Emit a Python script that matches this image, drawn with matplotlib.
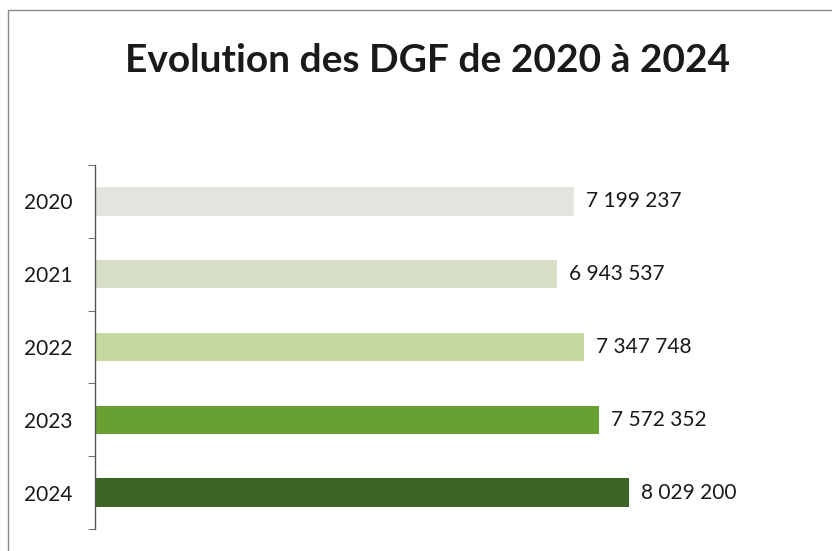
import matplotlib
matplotlib.use('Agg')
import matplotlib.pyplot as plt
from matplotlib.patches import Rectangle

years = ['2020', '2021', '2022', '2023', '2024']
dgf = [7199237, 6943537, 7347748, 7572352, 8029200]
colors = ['#e2e4dd', '#d6dfc6', '#c5d99f', '#69a034', '#3b6425']

plt.rcParams['font.family'] = ['Lato', 'DejaVu Sans']

W, H = 832, 551
fig = plt.figure(figsize=(W / 100, H / 100), dpi=100)

# scanned frame around the chart
fig.patches.append(Rectangle((8 / W, -0.1), 1.2, 1 - 10 / H + 0.1, transform=fig.transFigure,
                             fill=False, edgecolor='#8a8a8a', linewidth=1.0))

ax = fig.add_axes([95 / W, (H - 529) / H, (800 - 95) / W, (529 - 165) / H])

ypos = list(range(len(years)))
ax.barh(ypos, dgf, height=0.39, color=colors)
ax.set_ylim(len(years) - 0.5, -0.5)
ax.set_xlim(0, 10.6e6)

for y, v in zip(ypos, dgf):
    lab = f'{v:,}'.replace(',', ' ')
    ax.text(v + 0.18e6, y, lab, va='center', ha='left', fontsize=15, color='#1a1a1a')

ax.set_yticks(ypos)
ax.set_yticklabels(years, fontsize=15, color='#1a1a1a')
ax.set_yticks([i - 0.5 for i in range(len(years) + 1)], minor=True)
ax.tick_params(axis='y', which='major', length=0, pad=16)
ax.tick_params(axis='y', which='minor', length=5, color='#555555', direction='out')
ax.set_xticks([])
for s in ['top', 'right', 'bottom']:
    ax.spines[s].set_visible(False)
ax.spines['left'].set_color('#555555')
ax.spines['left'].set_linewidth(1.0)

fig.text(428 / W, 1 - 60 / H, 'Evolution des DGF de 2020 à 2024', ha='center', va='center',
         fontsize=28, fontweight='bold', color='#1a1a1a')

fig.savefig('out.png', dpi=100)
